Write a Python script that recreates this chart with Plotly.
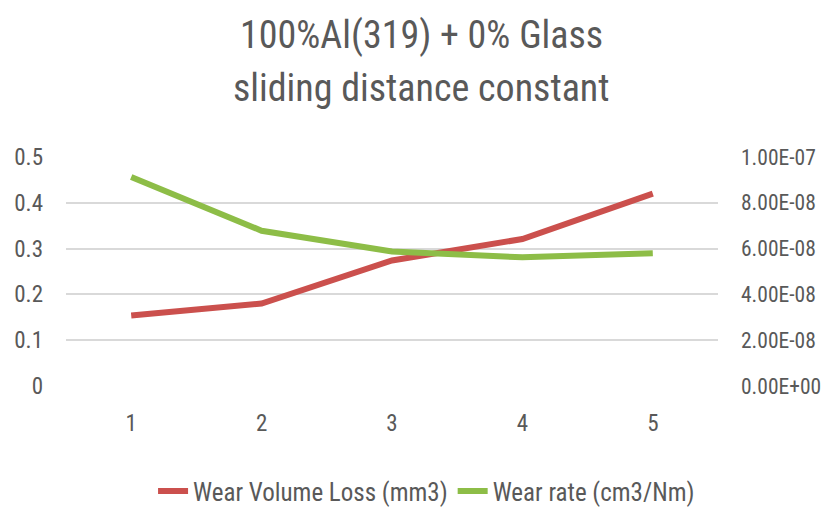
import plotly.graph_objects as go

categories = [1, 2, 3, 4, 5]
wear_volume_loss = [0.154, 0.180, 0.274, 0.321, 0.420]
wear_rate = [9.13e-8, 6.78e-8, 5.87e-8, 5.62e-8, 5.80e-8]
left_ticks = [0, 0.1, 0.2, 0.3, 0.4, 0.5]
left_tick_labels = ["0", "0.1", "0.2", "0.3", "0.4", "0.5"]
right_ticks = [0, 2e-8, 4e-8, 6e-8, 8e-8, 1e-7]
right_tick_labels = ["0.00E+00", "2.00E-08", "4.00E-08", "6.00E-08", "8.00E-08", "1.00E-07"]
title_lines = ["100%Al(319) + 0% Glass", "sliding distance constant"]

FONT = "Liberation Sans Narrow, Roboto Condensed, DejaVu Sans Condensed, sans-serif"
GREY = "#595959"

fig = go.Figure()
fig.add_trace(go.Scatter(x=categories, y=wear_volume_loss, name="Wear Volume Loss (mm3)",
                         mode="lines", line=dict(color="#CB504D", width=6), yaxis="y"))
fig.add_trace(go.Scatter(x=categories, y=wear_rate, name="Wear rate (cm3/Nm)",
                         mode="lines", line=dict(color="#8DBD47", width=6), yaxis="y2"))

fig.update_layout(
    width=831, height=508,
    margin=dict(l=66, r=113, t=157, b=122, autoexpand=False),
    paper_bgcolor="white", plot_bgcolor="white",
    font=dict(family=FONT, color=GREY, size=22),
    xaxis=dict(tickvals=categories, ticktext=[str(c) for c in categories],
               range=[0.5, 5.5], showgrid=False, zeroline=False, showline=False,
               ticks="", ticklabelstandoff=21, automargin=False,
               tickfont=dict(size=23, color=GREY)),
    yaxis=dict(range=[0, 0.5], tickvals=left_ticks, ticktext=left_tick_labels,
               showgrid=True, gridcolor="#D9D9D9", gridwidth=2, zeroline=False,
               ticks="", ticklabelstandoff=22, automargin=False,
               tickfont=dict(size=23, color=GREY)),
    yaxis2=dict(range=[0, 1e-7], tickvals=right_ticks, ticktext=right_tick_labels,
                overlaying="y", side="right", showgrid=False, zeroline=False,
                ticks="", ticklabelstandoff=22, automargin=False,
                tickfont=dict(size=21.5, color=GREY)),
    legend=dict(orientation="h", x=0.553, xanchor="center", y=-0.46, yanchor="middle",
                font=dict(size=25, color=GREY), tracegroupgap=0),
    annotations=[
        dict(text=title_lines[0], x=0.546, y=1.533, xref="paper", yref="paper",
             xanchor="center", yanchor="middle", showarrow=False,
             font=dict(family=FONT, size=38, color=GREY)),
        dict(text=title_lines[1], x=0.546, y=1.301, xref="paper", yref="paper",
             xanchor="center", yanchor="middle", showarrow=False,
             font=dict(family=FONT, size=38, color=GREY)),
    ],
)

fig.write_html("out.html", config={"displayModeBar": False},
               post_script="document.body.style.margin='0';")
